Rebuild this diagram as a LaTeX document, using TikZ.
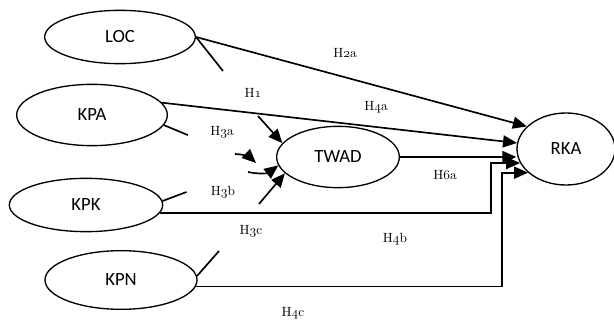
\documentclass[tikz,border=0pt]{standalone}
\usepackage{fontspec}
\usetikzlibrary{shapes.geometric,arrows.meta}
\newfontfamily\nodefont{Carlito}
\newcommand\osn[1]{{\usefont{OML}{cmm}{m}{it}#1}}
\begin{document}
\begin{tikzpicture}[x=0.75pt,y=-0.75pt,
  var/.style={ellipse, draw, line width=1pt, inner sep=0pt, font=\nodefont\fontsize{14}{16}\selectfont},
  lbl/.style={font=\fontsize{10}{12}\selectfont, inner sep=0pt},
  arr/.style={line width=1.25pt, -{Triangle[length=10.5pt,width=9pt]}},
  stub/.style={line width=1.25pt}]
\useasboundingbox (0,0) rectangle (614,320);
% variables
\node[var, minimum width=113pt, minimum height=40pt] (LOC) at (120,37) {LOC};
\node[var, minimum width=113pt, minimum height=46pt] (KPA) at (92,115) {KPA};
\node[var, minimum width=115pt, minimum height=40pt] (KPK) at (86,205) {KPK};
\node[var, minimum width=114pt, minimum height=44pt] (KPN) at (121,280) {KPN};
\node[var, minimum width=92pt, minimum height=46pt] (TWAD) at (338,157) {TWAD};
\node[var, minimum width=73.5pt, minimum height=54pt] (RKA) at (566,149) {RKA};
% free ends
\coordinate (h1s) at (258,116);
\coordinate (c1s) at (235,154);
\coordinate (c1e) at (256,163);
\coordinate (c2s) at (248,172);
\coordinate (c3s) at (259,204);
% connectors to RKA
\draw[arr] (LOC.east) -- (RKA.150);
\draw[arr] (KPA.10) -- (RKA.173);
\draw[arr] (TWAD.east) -- (TWAD.east -| RKA.west);
\draw[arr] (KPK.-6) -- ++(331,0) |- (RKA.197);
\draw[arr] (KPN.-5) -- ++(306,0) |- (RKA.212);
% stubs
\draw[stub] (LOC.east) -- ++(27,34);
\draw[stub] (KPA.-8) -- ++(24,10);
\draw[stub] (KPK.3) -- ++(24,-9);
\draw[stub] (KPN.3) -- ++(22,-25);
% arrows into TWAD
\draw[arr] (h1s) -- (TWAD.166);
\draw[arr] (c1s) to[bend left=20] (c1e);
\draw[arr] (c2s) to[bend right=25] (TWAD.188);
\draw[arr] (c3s) -- (TWAD.197);
% labels
\node[lbl] (lH2a) at (345,53) {H\osn{2}a};
\node[lbl] (lH1) at (253,93) {H\osn{1}};
\node[lbl] (lH4a) at (376,107) {H\osn{4}a};
\node[lbl] (lH3a) at (222,132) {H\osn{3}a};
\node[lbl] (lH3b) at (223,192) {H\osn{3}b};
\node[lbl] (lH6a) at (445,175) {H\osn{6}a};
\node[lbl] (lH3c) at (251,231) {H\osn{3}c};
\node[lbl] (lH4b) at (395,239) {H\osn{4}b};
\node[lbl] (lH4c) at (293,313) {H\osn{4}c};
\end{tikzpicture}
\end{document}
